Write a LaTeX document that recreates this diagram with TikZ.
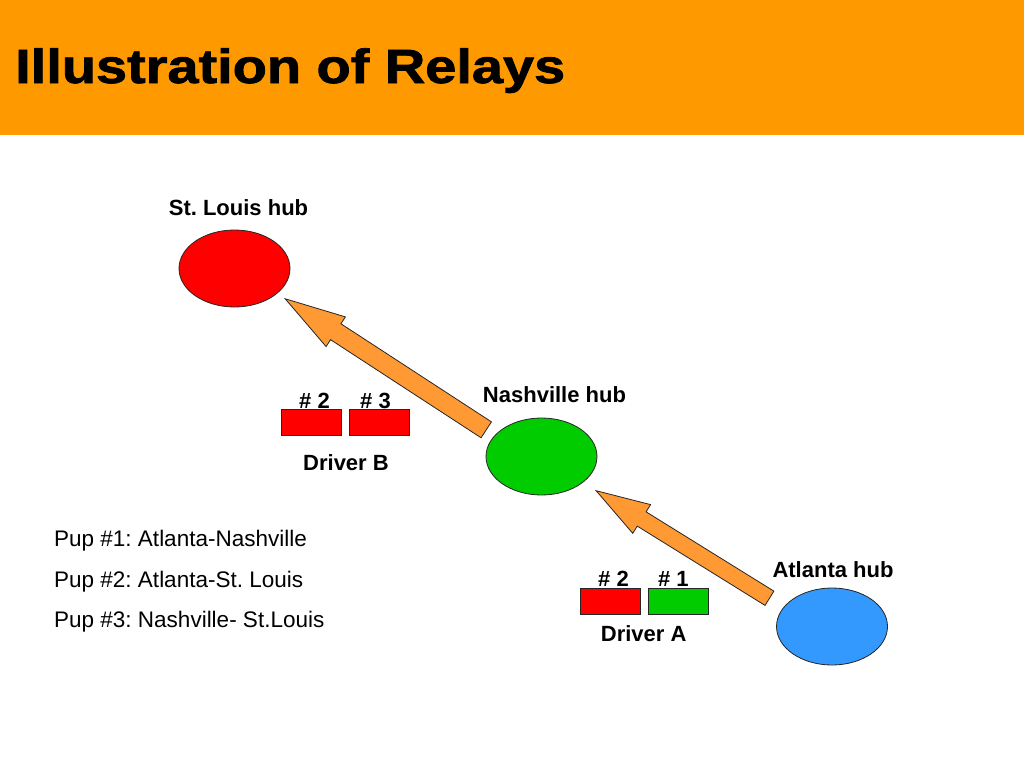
\documentclass[tikz,border=0pt]{standalone}
\usepackage{fontspec}
\setmainfont{Liberation Sans}
\usepackage{graphicx}
\usetikzlibrary{shapes.geometric,shapes.arrows}
\definecolor{banner}{HTML}{FF9900}
\definecolor{relayfill}{HTML}{FF9933}
\definecolor{hubred}{HTML}{FF0000}
\definecolor{hubgreen}{HTML}{00CC00}
\definecolor{hubblue}{HTML}{3399FF}
\frenchspacing
\begin{document}
\begin{tikzpicture}[x=1pt,y=-1pt,
    hub/.style={draw=black!85,ellipse,minimum width=111pt,minimum height=77pt,inner sep=0pt,line width=0.8pt},
    pupbox/.style={draw=black!85,minimum width=60pt,minimum height=26pt,inner sep=0pt,line width=0.8pt},
    lbl/.style={font=\bfseries\fontsize{22}{26}\selectfont,anchor=base,inner sep=0pt},
    pupline/.style={font=\fontsize{22.5}{27}\selectfont,anchor=base west,inner sep=0pt},
    relay/.style={single arrow,draw=black!85,fill=relayfill,sloped,allow upside down,inner xsep=0pt,line width=0.8pt,pos=1,anchor=tip}]
  \useasboundingbox (0,0) rectangle (1024,768);
  \fill[banner] (0,0) rectangle (1024,135);
  \node[anchor=base west,inner sep=0pt,font=\bfseries\fontsize{48}{56}\selectfont] (title) at (15,83)
    {\scalebox{1.165}[1]{\addfontfeatures{FakeBold=1.5}Illustration of Relays}};

  % hubs
  \node[hub,fill=hubred] (stlouis) at (234.5,268.5) {};
  \node[hub,fill=hubgreen] (nashville) at (541.5,456.5) {};
  \node[hub,fill=hubblue] (atlanta) at (832,626.5) {};
  \node[lbl] (stlouis label) at (238.5,215) {St. Louis hub};
  \node[lbl] (nashville label) at (554.5,402.3) {Nashville hub};
  \node[lbl] (atlanta label) at (833,577.7) {Atlanta hub};

  % relays
  \coordinate (b tail) at (485,429);
  \coordinate (b tip) at (284,298);
  \path (b tail) -- node[relay,minimum height=240pt,minimum width=34.6pt,inner ysep=9.1pt,
    single arrow head extend=8.2pt,single arrow tip angle=32.7] (relay b) {} (b tip);
  \coordinate (a tail) at (768.7,597.8);
  \coordinate (a tip) at (595,490);
  \path (a tail) -- node[relay,minimum height=204pt,minimum width=33pt,inner ysep=8pt,
    single arrow head extend=8.5pt,single arrow tip angle=35] (relay a) {} (a tip);

  % driver B
  \node[pupbox,fill=hubred] (b2) at (311.4,422) {};
  \node[pupbox,fill=hubred] (b3) at (379.2,422) {};
  \node[lbl] at (314.5,408) {\# 2};
  \node[lbl] at (375.5,408) {\# 3};
  \node[lbl] (driver b) at (346,470) {Driver B};

  % driver A
  \node[pupbox,fill=hubred] (a2) at (610,601) {};
  \node[pupbox,fill=hubgreen] (a1) at (678,601) {};
  \node[lbl] at (613.5,586.7) {\# 2};
  \node[lbl] at (673.3,586.7) {\# 1};
  \node[lbl] (driver a) at (643.7,641.7) {Driver A};

  \node[pupline] (pup1) at (54,546.5) {Pup \#1: Atlanta-Nashville};
  \node[pupline] (pup2) at (54,587) {Pup \#2: Atlanta-St. Louis};
  \node[pupline] (pup3) at (54,627.7) {Pup \#3: Nashville- St.Louis};
\end{tikzpicture}
\end{document}
